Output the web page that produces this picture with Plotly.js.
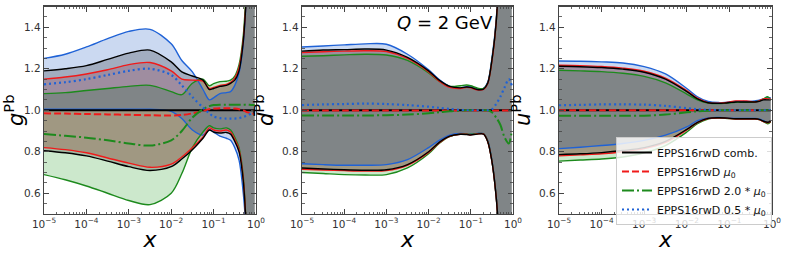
<!DOCTYPE html>
<html>
<head>
<meta charset="utf-8">
<script src="https://cdn.plot.ly/plotly-3.0.1.min.js"></script>
<style>html,body{margin:0;padding:0;background:#fff}#chart{width:789px;height:258px}</style>
</head>
<body>
<div id="chart"></div>
<script>
// shared x grid
const X = [1e-5, 3.16e-5, 1e-4, 3.16e-4, 1e-3, 3.16e-3, 1e-2, 1.78e-2, 3.16e-2, 5.62e-2, 7.94e-2, 0.1, 0.141, 0.2, 0.251, 0.316, 0.398, 0.501, 0.631, 0.794, 0.933];

// ---- panel 1: gluon g^Pb ----
const gCombHi = [1.19, 1.20, 1.215, 1.245, 1.275, 1.29, 1.233, 1.185, 1.165, 1.145, 1.10, 1.105, 1.115, 1.12, 1.13, 1.145, 1.19, 1.33, 1.65, 2.0, 2.2];
const gCombLo = [0.805, 0.795, 0.78, 0.755, 0.728, 0.71, 0.728, 0.765, 0.81, 0.865, 0.905, 0.895, 0.89, 0.893, 0.885, 0.85, 0.80, 0.66, 0.3, -0.2, -0.4];
const gCombMid = [1.0, 1.0, 1.0, 1.0, 1.0, 1.0, 1.0, 1.0, 1.0, 1.0, 1.0, 1.0, 1.0, 1.0, 1.0, 1.0, 1.0, 1.0, 1.0, 1.0, 1.0];
const gMu0Hi = [1.15, 1.16, 1.175, 1.195, 1.22, 1.23, 1.19, 1.15, 1.145, 1.14, 1.105, 1.11, 1.12, 1.125, 1.135, 1.155, 1.205, 1.34, 1.65, 2.0, 2.2];
const gMu0Lo = [0.82, 0.81, 0.795, 0.77, 0.745, 0.725, 0.74, 0.775, 0.82, 0.87, 0.915, 0.905, 0.90, 0.905, 0.895, 0.86, 0.81, 0.67, 0.3, -0.2, -0.4];
const gMu0Mid = [0.985, 0.984, 0.982, 0.98, 0.978, 0.976, 0.975, 0.977, 0.985, 0.997, 1.005, 1.008, 1.01, 1.01, 1.01, 1.008, 1.005, 1.0, 0.99, 0.985, 0.985];
const gMu2Hi = [1.08, 1.085, 1.095, 1.105, 1.115, 1.12, 1.09, 1.075, 1.13, 1.15, 1.118, 1.128, 1.138, 1.14, 1.145, 1.165, 1.22, 1.36, 1.7, 2.0, 2.2];
const gMu2Lo = [0.69, 0.665, 0.635, 0.60, 0.565, 0.545, 0.60, 0.695, 0.82, 0.895, 0.925, 0.915, 0.91, 0.915, 0.905, 0.87, 0.82, 0.68, 0.3, -0.2, -0.4];
const gMu2Mid = [0.885, 0.877, 0.868, 0.855, 0.84, 0.83, 0.855, 0.90, 0.965, 1.005, 1.02, 1.025, 1.027, 1.027, 1.027, 1.027, 1.027, 1.027, 1.027, 1.025, 1.025];
const gMuHHi = [1.25, 1.27, 1.305, 1.345, 1.38, 1.39, 1.32, 1.24, 1.185, 1.10, 1.05, 1.06, 1.08, 1.085, 1.09, 1.12, 1.18, 1.32, 1.65, 2.0, 2.2];
const gMuHLo = [1.005, 1.005, 1.005, 1.005, 1.005, 1.005, 0.995, 0.96, 0.905, 0.88, 0.905, 0.895, 0.875, 0.865, 0.855, 0.82, 0.76, 0.6, 0.3, -0.2, -0.4];
const gMuHMid = [1.125, 1.135, 1.15, 1.17, 1.19, 1.20, 1.17, 1.12, 1.064, 1.013, 0.985, 0.97, 0.962, 0.96, 0.96, 0.96, 0.962, 0.968, 0.975, 0.985, 0.99];

// ---- panel 2: dbar^Pb ----
const dCombHi = [1.285, 1.29, 1.292, 1.295, 1.29, 1.255, 1.19, 1.145, 1.115, 1.108, 1.112, 1.11, 1.10, 1.102, 1.13, 1.24, 1.42, 1.8, 2.2, 2.5, 2.5];
const dCombLo = [0.722, 0.717, 0.713, 0.711, 0.713, 0.738, 0.80, 0.845, 0.875, 0.884, 0.883, 0.881, 0.885, 0.885, 0.85, 0.755, 0.585, 0.3, 0.0, -0.2, -0.2];
const dCombMid = [1.0, 1.0, 1.0, 1.0, 1.0, 1.0, 1.0, 1.0, 1.0, 1.0, 1.0, 1.0, 1.0, 1.0, 1.0, 1.0, 1.0, 1.0, 1.0, 1.0, 1.0];
const dMu0Hi = [1.278, 1.282, 1.285, 1.287, 1.283, 1.25, 1.185, 1.14, 1.11, 1.105, 1.11, 1.108, 1.098, 1.10, 1.128, 1.235, 1.42, 1.8, 2.2, 2.5, 2.5];
const dMu0Lo = [0.716, 0.712, 0.709, 0.707, 0.709, 0.735, 0.797, 0.843, 0.874, 0.884, 0.884, 0.882, 0.886, 0.886, 0.85, 0.755, 0.585, 0.3, 0.0, -0.2, -0.2];
const dMu0Mid = [0.999, 0.999, 0.999, 0.999, 0.999, 0.999, 0.999, 0.999, 0.999, 0.999, 0.999, 0.999, 0.999, 0.999, 0.999, 0.999, 0.999, 0.999, 0.999, 0.999, 0.999];
const dMu2Hi = [1.26, 1.263, 1.267, 1.27, 1.266, 1.24, 1.18, 1.14, 1.115, 1.118, 1.122, 1.118, 1.107, 1.105, 1.13, 1.24, 1.42, 1.8, 2.2, 2.5, 2.5];
const dMu2Lo = [0.70, 0.695, 0.69, 0.688, 0.69, 0.722, 0.79, 0.84, 0.873, 0.885, 0.886, 0.884, 0.887, 0.887, 0.852, 0.757, 0.587, 0.3, 0.0, -0.2, -0.2];
const dMu2Mid = [0.975, 0.975, 0.975, 0.975, 0.976, 0.979, 0.985, 0.99, 0.995, 0.998, 1.0, 1.0, 1.0, 1.0, 1.0, 0.99, 0.965, 0.93, 0.87, 0.84, 0.9];
const dMuHHi = [1.305, 1.31, 1.315, 1.32, 1.318, 1.27, 1.195, 1.148, 1.115, 1.108, 1.113, 1.112, 1.103, 1.105, 1.135, 1.25, 1.43, 1.8, 2.2, 2.5, 2.5];
const dMuHLo = [0.742, 0.738, 0.735, 0.735, 0.738, 0.762, 0.82, 0.855, 0.88, 0.888, 0.886, 0.884, 0.888, 0.888, 0.855, 0.76, 0.59, 0.3, 0.0, -0.2, -0.2];
const dMuHMid = [1.025, 1.028, 1.03, 1.032, 1.03, 1.025, 1.017, 1.012, 1.006, 1.002, 1.0, 1.0, 1.0, 1.0, 1.0, 1.005, 1.03, 1.065, 1.11, 1.15, 1.12];

// ---- panel 3: u^Pb ----
const uCombHi = [1.212, 1.21, 1.206, 1.198, 1.183, 1.15, 1.09, 1.055, 1.036, 1.033, 1.035, 1.037, 1.04, 1.04, 1.04, 1.04, 1.04, 1.043, 1.05, 1.05, 1.05];
const uCombLo = [0.786, 0.79, 0.796, 0.806, 0.82, 0.85, 0.908, 0.942, 0.961, 0.964, 0.963, 0.961, 0.959, 0.959, 0.959, 0.959, 0.959, 0.956, 0.947, 0.942, 0.946];
const uCombMid = [1.0, 1.0, 1.0, 1.0, 1.0, 1.0, 1.0, 1.0, 1.0, 1.0, 1.0, 1.0, 1.0, 1.0, 1.0, 1.0, 1.0, 1.0, 1.0, 1.0, 1.0];
const uMu0Hi = [1.217, 1.215, 1.211, 1.203, 1.188, 1.155, 1.095, 1.058, 1.037, 1.034, 1.036, 1.04, 1.045, 1.045, 1.045, 1.043, 1.04, 1.045, 1.055, 1.055, 1.055];
const uMu0Lo = [0.78, 0.785, 0.79, 0.80, 0.815, 0.845, 0.905, 0.94, 0.96, 0.963, 0.962, 0.96, 0.958, 0.958, 0.958, 0.958, 0.958, 0.955, 0.945, 0.94, 0.945];
const uMu0Mid = [1.0, 1.0, 1.0, 1.0, 1.0, 1.0, 1.0, 1.0, 1.0, 1.0, 1.0, 1.0, 1.0, 1.0, 1.0, 1.0, 1.0, 1.0, 1.0, 1.0, 1.0];
const uMu2Hi = [1.193, 1.19, 1.186, 1.178, 1.163, 1.132, 1.078, 1.05, 1.035, 1.032, 1.034, 1.036, 1.038, 1.038, 1.038, 1.038, 1.04, 1.045, 1.055, 1.065, 1.05];
const uMu2Lo = [0.755, 0.76, 0.765, 0.775, 0.795, 0.83, 0.895, 0.935, 0.958, 0.962, 0.961, 0.96, 0.958, 0.958, 0.958, 0.958, 0.958, 0.955, 0.945, 0.935, 0.945];
const uMu2Mid = [0.974, 0.973, 0.973, 0.973, 0.974, 0.979, 0.99, 0.995, 0.998, 1.0, 1.0, 1.0, 1.0, 1.0, 1.0, 1.0, 1.0, 1.0, 1.0, 1.0, 1.0];
const uMuHHi = [1.237, 1.236, 1.233, 1.228, 1.21, 1.175, 1.105, 1.065, 1.042, 1.037, 1.038, 1.04, 1.042, 1.043, 1.043, 1.043, 1.045, 1.048, 1.055, 1.06, 1.06];
const uMuHLo = [0.815, 0.822, 0.83, 0.84, 0.855, 0.88, 0.92, 0.95, 0.963, 0.965, 0.963, 0.962, 0.96, 0.96, 0.96, 0.96, 0.96, 0.958, 0.95, 0.94, 0.945];
const uMuHMid = [1.024, 1.026, 1.028, 1.028, 1.027, 1.021, 1.01, 1.005, 1.002, 1.0, 1.0, 1.0, 1.0, 1.0, 1.0, 1.0, 1.0, 1.0, 1.0, 1.0, 1.0];

// labels
const seriesNames = ['EPPS16rwD comb.', 'EPPS16rwD <i>μ</i><sub>0</sub>', 'EPPS16rwD 2.0 * <i>μ</i><sub>0</sub>', 'EPPS16rwD 0.5 * <i>μ</i><sub>0</sub>'];
const yTitles = ['<i>g</i><sup>Pb</sup>', '<i>d\u0304</i><sup>Pb</sup>', '<i>u</i><sup>Pb</sup>'];
const xTickVals = [1e-5, 1e-4, 1e-3, 1e-2, 1e-1, 1];
const xTickText = ['10<sup>\u22125</sup>', '10<sup>\u22124</sup>', '10<sup>\u22123</sup>', '10<sup>\u22122</sup>', '10<sup>\u22121</sup>', '10<sup>0</sup>'];
const yTickVals = [0.6, 0.8, 1.0, 1.2, 1.4];
const yTickText = ['0.6', '0.8', '1.0', '1.2', '1.4'];
const yMinorVals = [0.55, 0.65, 0.7, 0.75, 0.85, 0.9, 0.95, 1.05, 1.1, 1.15, 1.25, 1.3, 1.35, 1.45];

// styles
const COL = {comb: '#000000', mu0: '#f01a1a', mu2: '#1d8a1d', muH: '#1f62d6'};
const FILL = {comb: 'rgba(0,0,0,0.2)', mu0: 'rgba(230,0,0,0.2)', mu2: 'rgba(0,140,0,0.2)', muH: 'rgba(20,80,190,0.22)'};
const DASH = {comb: 'solid', mu0: '7px,3px', mu2: '12px,3px,2px,3px', muH: '2px,3px'};

const panels = [
  {xa: 'x', ya: 'y', d: {comb: [gCombLo, gCombHi, gCombMid], mu0: [gMu0Lo, gMu0Hi, gMu0Mid], mu2: [gMu2Lo, gMu2Hi, gMu2Mid], muH: [gMuHLo, gMuHHi, gMuHMid]}},
  {xa: 'x2', ya: 'y2', d: {comb: [dCombLo, dCombHi, dCombMid], mu0: [dMu0Lo, dMu0Hi, dMu0Mid], mu2: [dMu2Lo, dMu2Hi, dMu2Mid], muH: [dMuHLo, dMuHHi, dMuHMid]}},
  {xa: 'x3', ya: 'y3', d: {comb: [uCombLo, uCombHi, uCombMid], mu0: [uMu0Lo, uMu0Hi, uMu0Mid], mu2: [uMu2Lo, uMu2Hi, uMu2Mid], muH: [uMuHLo, uMuHHi, uMuHMid]}}
];

const traces = [];
const SM = 0.9;
panels.forEach(function (p, pi) {
  // fills
  ['mu0', 'mu2', 'muH', 'comb'].forEach(function (k) {
    traces.push({x: X, y: p.d[k][0], xaxis: p.xa, yaxis: p.ya, mode: 'lines', line: {width: 0, shape: 'spline', smoothing: SM}, showlegend: false, hoverinfo: 'skip'});
    traces.push({x: X, y: p.d[k][1], xaxis: p.xa, yaxis: p.ya, mode: 'lines', line: {width: 0, shape: 'spline', smoothing: SM}, fill: 'tonexty', fillcolor: FILL[k], showlegend: false, hoverinfo: 'skip'});
  });
  // edges
  ['muH', 'mu2', 'mu0', 'comb'].forEach(function (k) {
    [0, 1].forEach(function (j) {
      traces.push({x: X, y: p.d[k][j], xaxis: p.xa, yaxis: p.ya, mode: 'lines', line: {color: COL[k], width: 1.4, shape: 'spline', smoothing: SM}, showlegend: false, hoverinfo: 'skip'});
    });
  });
  // centre lines
  ['comb', 'mu0', 'mu2', 'muH'].forEach(function (k, ki) {
    traces.push({x: X, y: p.d[k][2], xaxis: p.xa, yaxis: p.ya, mode: 'lines', name: seriesNames[ki],
      line: {color: COL[k], width: k === 'muH' ? 2.2 : 2, dash: DASH[k], shape: 'spline', smoothing: SM},
      showlegend: pi === 0, hoverinfo: 'skip'});
  });
});

const W = 789, H = 258;
const xDomains = [[44 / W, 256 / W], [302 / W, 513 / W], [559 / W, 772 / W]];
const yDomain = [1 - 214 / H, 1 - 6.5 / H];

const minorX = [];
[1e-5, 1e-4, 1e-3, 1e-2, 1e-1].forEach(function (d) { [2, 3, 4, 5, 6, 7, 8, 9].forEach(function (m) { minorX.push(m * d); }); });

const FONT = 'DejaVu Sans, sans-serif';
const layout = {
  width: W, height: H,
  margin: {l: 0, r: 0, t: 0, b: 0},
  paper_bgcolor: '#fff', plot_bgcolor: '#fff',
  font: {family: FONT, color: '#222'},
  showlegend: true,
  legend: {x: 616 / W, y: 1 - 137 / H, xanchor: 'left', yanchor: 'top', bgcolor: 'rgba(255,255,255,0.82)', bordercolor: '#cccccc', borderwidth: 1,
    font: {family: FONT, size: 11, color: '#111'}, tracegroupgap: 0, itemwidth: 30, traceorder: 'normal'},
  annotations: [{xref: 'paper', yref: 'paper', x: 445 / W, y: 1 - 22 / H, xanchor: 'center', yanchor: 'middle', showarrow: false,
    text: '<i>Q</i> = 2 GeV', font: {family: FONT, size: 18, color: '#000'}}]
};
[0, 1, 2].forEach(function (i) {
  const s = i === 0 ? '' : String(i + 1);
  layout['xaxis' + s] = {
    type: 'log', range: [-5, 0], domain: xDomains[i], anchor: 'y' + s,
    showgrid: false, zeroline: false, showline: true, linecolor: '#444', linewidth: 1.3, mirror: 'allticks',
    ticks: 'inside', ticklen: 5, tickwidth: 1, tickcolor: '#444',
    tickmode: 'array', tickvals: xTickVals, ticktext: xTickText, tickfont: {family: FONT, size: 10.5, color: '#333'},
    minor: {tickmode: 'array', tickvals: minorX, ticks: 'inside', ticklen: 2.5, tickwidth: 0.8, tickcolor: '#444', showgrid: false},
    title: {text: '<i>x</i>', font: {family: FONT, size: 22, color: '#000'}, standoff: 2},
    automargin: false
  };
  layout['yaxis' + s] = {
    range: [0.5, 1.5], domain: yDomain, anchor: 'x' + s,
    showgrid: false, zeroline: false, showline: true, linecolor: '#444', linewidth: 1.3, mirror: 'allticks',
    ticks: 'inside', ticklen: 5, tickwidth: 1, tickcolor: '#444',
    tickmode: 'array', tickvals: yTickVals, ticktext: yTickText, tickfont: {family: FONT, size: 10.5, color: '#333'},
    minor: {tickmode: 'array', tickvals: yMinorVals, ticks: 'inside', ticklen: 3, tickwidth: 0.8, tickcolor: '#444', showgrid: false},
    title: {text: yTitles[i], font: {family: FONT, size: 21, color: '#000'}, standoff: 2},
    automargin: false
  };
});

Plotly.newPlot('chart', traces, layout, {staticPlot: true, displayModeBar: false});
</script>
</body>
</html>
